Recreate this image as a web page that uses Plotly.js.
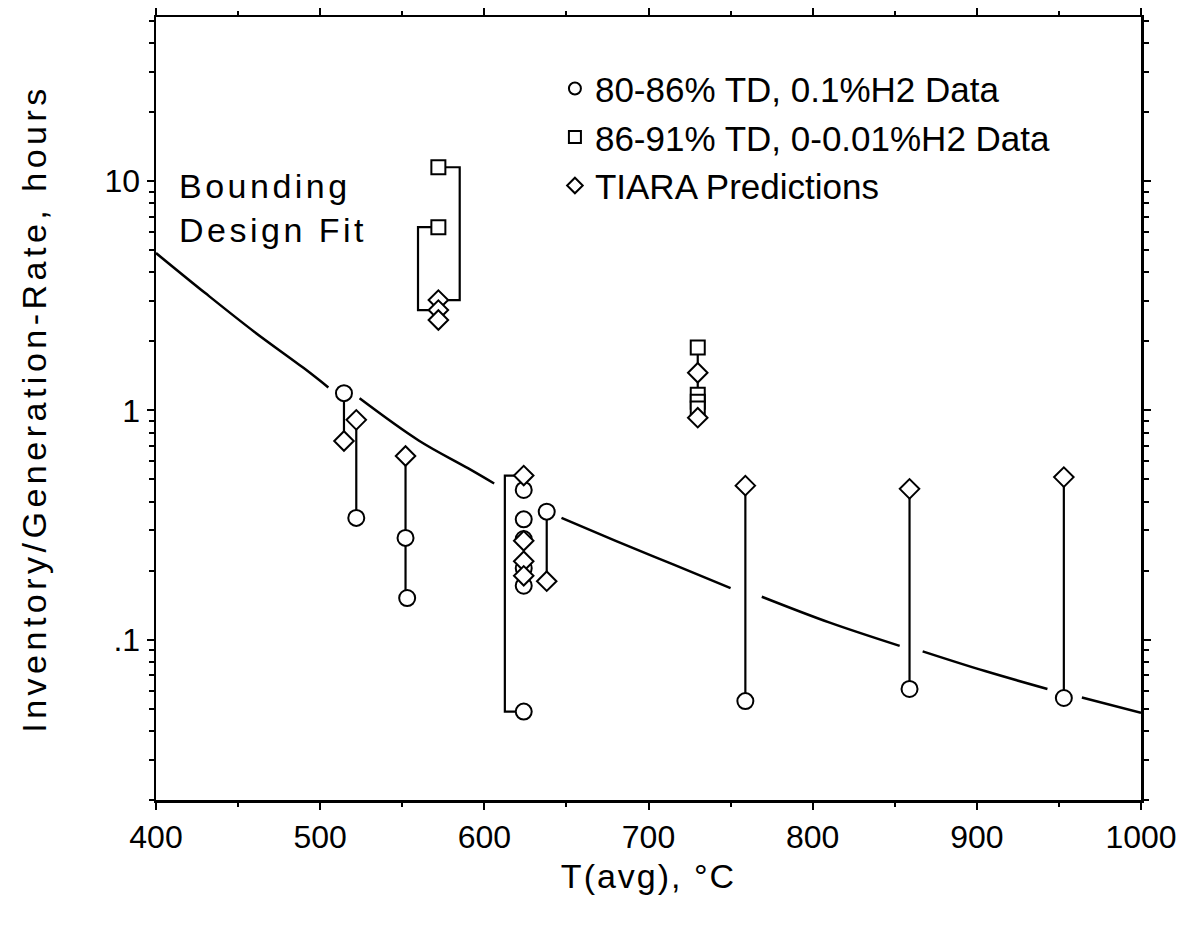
<!DOCTYPE html>
<html>
<head>
<meta charset="utf-8">
<script src="https://cdn.plot.ly/plotly-3.0.1.min.js"></script>
<style>
  html, body { margin: 0; padding: 0; background: #fff; }
  #chart { width: 1199px; height: 940px; }
  #chart .ytitle { letter-spacing: 4.5px; }
  #chart .xtitle { letter-spacing: 2px; }
  #chart .annotation-text { letter-spacing: 3.5px; }
</style>
</head>
<body>
<div id="chart"></div>
<script>
// ---- Data ----
// Bounding design fit (null = gap in the drawn curve)
const fitX = [400, 430, 460, 490, 505, null, 524, 560, 590, 606, null, 647, 680, 715, 750, null, 769, 810, 853, null, 867, 905, 943, null, 964, 1000];
const fitY = [4.86, 3.25, 2.2, 1.53, 1.26, null, 1.13, 0.74, 0.56, 0.48, null, 0.34, 0.27, 0.213, 0.168, null, 0.154, 0.119, 0.094, null, 0.089, 0.073, 0.061, null, 0.056, 0.048];

// 80-86% TD, 0.1%H2 data (circles)
const circX = [514.5, 522, 552, 553, 624, 624, 624, 624, 624, 624, 638, 759, 859, 953];
const circY = [1.19, 0.34, 0.278, 0.152, 0.45, 0.335, 0.275, 0.205, 0.172, 0.0486, 0.362, 0.054, 0.061, 0.0557];

// 86-91% TD, 0-0.01%H2 data (squares)
const sqX = [572, 572, 730, 730, 730, 730];
const sqY = [11.5, 6.3, 1.88, 1.17, 1.09, 1.02];

// TIARA predictions (diamonds)
const diaX = [514.5, 522, 552, 572, 572, 572, 624, 624, 624, 624, 638, 730, 730, 759, 859, 953];
const diaY = [0.736, 0.91, 0.633, 3.03, 2.74, 2.48, 0.52, 0.27, 0.22, 0.19, 0.18, 1.46, 0.93, 0.47, 0.455, 0.512];

// vertical connectors: x, top value, bottom value
const connX   = [514.5, 522, 552, 638, 730, 759, 859, 953];
const connTop = [1.19, 0.91, 0.633, 0.362, 1.88, 0.47, 0.455, 0.512];
const connBot = [0.736, 0.34, 0.152, 0.18, 0.93, 0.054, 0.061, 0.0557];

// bracket connectors: point x, bracket x, top value, bottom value
const brPointX = [572, 572, 624];
const brLineX  = [585, 559.6, 612.5];
const brTop    = [11.5, 6.3, 0.52];
const brBot    = [3.03, 2.74, 0.0486];

// axis ticks
const yTickVals = [0.1, 1, 10];
const yTickText = ['.1', '1', '10'];
const yMinorVals = [0.02,0.03,0.04,0.05,0.06,0.07,0.08,0.09,0.2,0.3,0.4,0.5,0.6,0.7,0.8,0.9,2,3,4,5,6,7,8,9,20,30,40,50];

// ---- Build connector geometry from data ----
const lx = [], ly = [];
connX.forEach((x, i) => { lx.push(x, x, null); ly.push(connTop[i], connBot[i], null); });
brPointX.forEach((xp, i) => {
  const xb = brLineX[i];
  lx.push(xp, xb, xb, xp, null);
  ly.push(brTop[i], brTop[i], brBot[i], brBot[i], null);
});

const FONT = 'Liberation Sans, Arial, sans-serif';
const mk = (sym, size) => ({ symbol: sym, size: size, color: '#ffffff', line: { color: '#000000', width: 2 } });

const traces = [
  { x: fitX, y: fitY, mode: 'lines', line: { color: '#000', width: 2.5, shape: 'spline' }, connectgaps: false, showlegend: false, hoverinfo: 'skip' },
  { x: lx, y: ly, mode: 'lines', line: { color: '#000', width: 2.2 }, connectgaps: false, showlegend: false, hoverinfo: 'skip' },
  { x: circX, y: circY, mode: 'markers', name: '80-86% TD, 0.1%H2 Data', marker: mk('circle', 16) },
  { x: sqX, y: sqY, mode: 'markers', name: '86-91% TD, 0-0.01%H2 Data', marker: mk('square', 14) },
  { x: diaX, y: diaY, mode: 'markers', name: 'TIARA Predictions', marker: mk('diamond', 15) }
];

const layout = {
  width: 1199, height: 940,
  margin: { l: 156, r: 58, t: 17, b: 140 },
  paper_bgcolor: '#fff', plot_bgcolor: '#fff',
  font: { family: FONT, color: '#000', size: 30 },
  showlegend: true,
  legend: { x: 0.405, y: 0.946, xanchor: 'left', yanchor: 'top', bgcolor: 'rgba(0,0,0,0)', font: { size: 35, family: FONT }, itemsizing: 'constant' },
  xaxis: {
    range: [400, 1000], dtick: 100, tick0: 400,
    showline: true, linewidth: 2.5, linecolor: '#000', mirror: 'ticks',
    ticks: 'outside', ticklen: 7, tickwidth: 2, tickcolor: '#000',
    showgrid: false, zeroline: false,
    tickfont: { size: 32, family: FONT },
    minor: { dtick: 50, ticks: 'outside', ticklen: 4, tickwidth: 2, tickcolor: '#000', showgrid: false },
    title: { text: 'T(avg), °C', font: { size: 34, family: FONT }, standoff: 11 }
  },
  yaxis: {
    type: 'log', range: [Math.log10(0.02), 1.716],
    tickmode: 'array', tickvals: yTickVals, ticktext: yTickText,
    showline: true, linewidth: 2.5, linecolor: '#000', mirror: 'ticks',
    ticks: 'outside', ticklen: 7, tickwidth: 2, tickcolor: '#000',
    showgrid: false, zeroline: false,
    tickfont: { size: 32, family: FONT },
    minor: { tickmode: 'array', tickvals: yMinorVals, ticks: 'outside', ticklen: 5, tickwidth: 2, tickcolor: '#000', showgrid: false },
    title: { text: 'Inventory/Generation-Rate, hours', font: { size: 34, family: FONT }, standoff: 48 }
  },
  annotations: [
    { xref: 'x', yref: 'paper', x: 413, y: (800 - 165) / 783, xanchor: 'left', yanchor: 'top', align: 'left',
      text: 'Bounding<br>Design Fit', showarrow: false, font: { size: 34, family: FONT } }
  ]
};

Plotly.newPlot('chart', traces, layout, { displayModeBar: false, staticPlot: true });
</script>
</body>
</html>
